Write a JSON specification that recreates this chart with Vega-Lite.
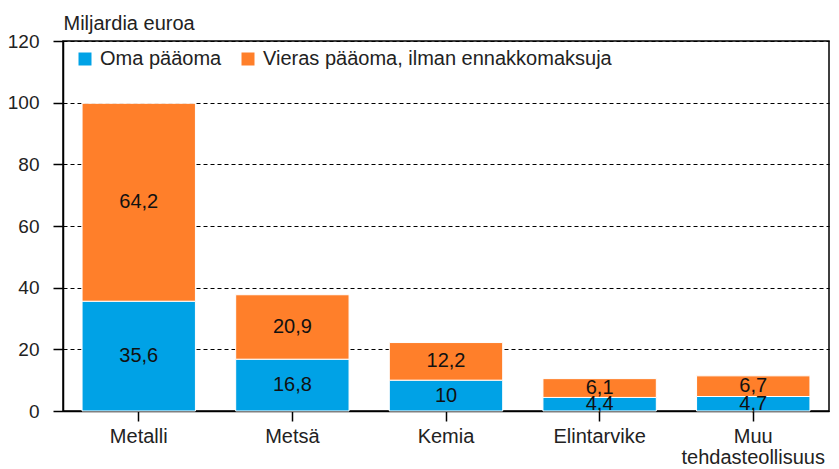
{
  "$schema": "https://vega.github.io/schema/vega-lite/v6.json",
  "width": 766,
  "height": 370,
  "autosize": {"type": "none"},
  "padding": {"left": 63, "top": 41, "right": 10, "bottom": 58},
  "config": {
    "font": "Liberation Sans",
    "view": {"stroke": "#000", "strokeWidth": 1.5},
    "locale": {"number": {"decimal": ",", "thousands": " ", "grouping": [3], "currency": ["", " €"]}}
  },
  "data": {
    "values": [
      {"toimiala": "Metalli", "sarja": "Oma pääoma", "order": 1, "arvo": 35.6},
      {"toimiala": "Metalli", "sarja": "Vieras pääoma, ilman ennakkomaksuja", "order": 2, "arvo": 64.2},
      {"toimiala": "Metsä", "sarja": "Oma pääoma", "order": 1, "arvo": 16.8},
      {"toimiala": "Metsä", "sarja": "Vieras pääoma, ilman ennakkomaksuja", "order": 2, "arvo": 20.9},
      {"toimiala": "Kemia", "sarja": "Oma pääoma", "order": 1, "arvo": 10},
      {"toimiala": "Kemia", "sarja": "Vieras pääoma, ilman ennakkomaksuja", "order": 2, "arvo": 12.2},
      {"toimiala": "Elintarvike", "sarja": "Oma pääoma", "order": 1, "arvo": 4.4},
      {"toimiala": "Elintarvike", "sarja": "Vieras pääoma, ilman ennakkomaksuja", "order": 2, "arvo": 6.1},
      {"toimiala": "Muu tehdasteollisuus", "sarja": "Oma pääoma", "order": 1, "arvo": 4.7},
      {"toimiala": "Muu tehdasteollisuus", "sarja": "Vieras pääoma, ilman ennakkomaksuja", "order": 2, "arvo": 6.7}
    ]
  },
  "transform": [
    {"stack": "arvo", "groupby": ["toimiala"], "sort": [{"field": "order"}], "as": ["a0", "a1"]},
    {"calculate": "(datum.a0 + datum.a1) / 2", "as": "mid"}
  ],
  "encoding": {
    "x": {
      "field": "toimiala",
      "type": "nominal",
      "sort": null,
      "scale": {"paddingInner": 0.262, "paddingOuter": 0.124},
      "axis": {
        "title": null,
        "labelAngle": 0,
        "labelFontSize": 20,
        "labelColor": "#222",
        "labelPadding": 5,
        "labelLineHeight": 21,
        "labelExpr": "split(datum.label, ' ')",
        "domainColor": "#000",
        "domainWidth": 1.5,
        "tickColor": "#000",
        "tickSize": 10,
        "tickWidth": 1.5
      }
    }
  },
  "layer": [
    {
      "mark": {"type": "bar", "stroke": "white", "strokeWidth": 1},
      "encoding": {
        "y": {
          "field": "a0",
          "type": "quantitative",
          "scale": {"domain": [0, 120], "nice": false},
          "axis": {
            "values": [0, 20, 40, 60, 80, 100, 120],
            "title": "Miljardia euroa",
            "titleAngle": 0,
            "titleAlign": "left",
            "titleBaseline": "alphabetic",
            "titleX": 0,
            "titleY": -12,
            "titleFontSize": 20,
            "titleFontWeight": "normal",
            "titleColor": "#222",
            "labelFontSize": 19,
            "labelColor": "#222",
            "labelPadding": 14,
            "domainColor": "#000",
            "domainWidth": 1.5,
            "tickColor": "#000",
            "tickSize": 10,
            "tickWidth": 1.5,
            "grid": true,
            "gridColor": "#000",
            "gridDash": [4, 3],
            "gridWidth": 1,
            "gridOpacity": 1
          }
        },
        "y2": {"field": "a1"},
        "color": {
          "field": "sarja",
          "type": "nominal",
          "scale": {
            "domain": ["Oma pääoma", "Vieras pääoma, ilman ennakkomaksuja"],
            "range": ["#00A2E6", "#FF7F2A"]
          },
          "legend": {
            "title": null,
            "orient": "none",
            "legendX": 12,
            "legendY": 8,
            "direction": "horizontal",
            "symbolType": "square",
            "symbolSize": 169,
            "symbolStrokeWidth": 0,
            "symbolOpacity": 1,
            "labelFontSize": 20,
            "labelLimit": 0,
            "labelColor": "#222",
            "labelOffset": 5,
            "columnPadding": 16
          }
        }
      }
    },
    {
      "mark": {"type": "text", "fontSize": 20, "color": "#111", "baseline": "middle"},
      "encoding": {
        "y": {"field": "mid", "type": "quantitative"},
        "text": {"field": "arvo", "type": "quantitative", "format": ".1~f"}
      }
    }
  ]
}
